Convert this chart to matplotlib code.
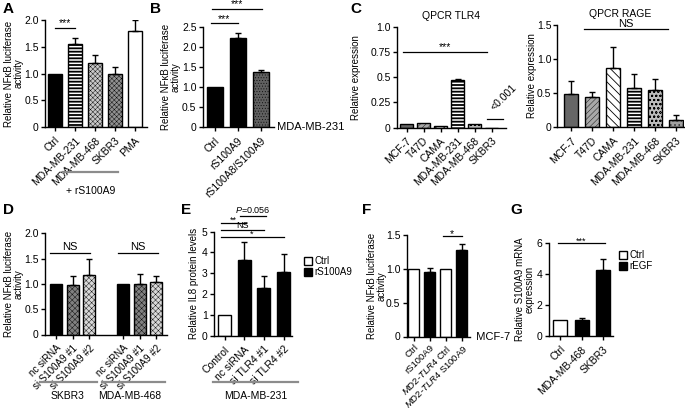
import matplotlib
matplotlib.use("Agg")
import matplotlib.pyplot as plt
from matplotlib.patches import Rectangle
from matplotlib.lines import Line2D

plt.rcParams['font.family'] = ['Liberation Sans', 'DejaVu Sans']
plt.rcParams['mathtext.fontset'] = 'custom'
plt.rcParams['mathtext.it'] = 'Liberation Sans:italic'
plt.rcParams['mathtext.rm'] = 'Liberation Sans'
plt.rcParams['font.size'] = 7.5

# ---------------- data ----------------
A_cats = ['Ctrl', 'MDA-MB-231', 'MDA-MB-468', 'SKBR3', 'PMA']
A_vals = [1.0, 1.55, 1.2, 1.0, 1.8]
A_err = [0, 0.12, 0.15, 0.12, 0.2]

B_cats = ['Ctrl', 'rS100A9', 'rS100A8/S100A9']
B_vals = [1.0, 2.22, 1.38]
B_err = [0, 0.13, 0.05]

C_cats = ['MCF-7', 'T47D', 'CAMA', 'MDA-MB-231', 'MDA-MB-468', 'SKBR3']
TLR4_vals = [0.03, 0.045, 0.01, 0.47, 0.035, 0.0]
TLR4_err = [0, 0, 0, 0.015, 0, 0]
RAGE_vals = [0.49, 0.44, 0.87, 0.58, 0.55, 0.11]
RAGE_err = [0.18, 0.08, 0.30, 0.20, 0.15, 0.06]

D_cats = ['nc siRNA', 'si S100A9 #1', 'si S100A9 #2', 'nc siRNA', 'si S100A9 #1', 'si S100A9 #2']
D_pos = [0, 1, 2, 4, 5, 6]
D_vals = [1.0, 0.97, 1.18, 1.0, 0.99, 1.04]
D_err = [0, 0.19, 0.31, 0, 0.20, 0.12]

E_cats = ['Control', 'nc siRNA', 'si TLR4 #1', 'si TLR4 #2']
E_vals = [1.0, 3.65, 2.3, 3.08]
E_err = [0, 0.85, 0.55, 0.82]

F_cats = ['Ctrl', 'rS100A9', '$\\mathit{MD2}$-$\\mathit{TLR4}$ Ctrl', '$\\mathit{MD2}$-$\\mathit{TLR4}$ S100A9']
F_vals = [1.0, 0.96, 1.0, 1.28]
F_err = [0, 0.05, 0, 0.09]

G_cats = ['Ctrl', 'MDA-MB-468', 'SKBR3']
G_vals = [1.0, 1.05, 4.25]
G_err = [0, 0.12, 0.72]

# ---------------- styles ----------------
BLACK = dict(fc='black')
WHITE = dict(fc='white')
STRIPE = dict(fc='white', hatch='-----', hlw=1.3)
DOTL = dict(fc='#c8c8c8', hatch='xxxxxxx', hlw=0.3)
DOTD = dict(fc='#909090', hatch='xxxxxxx', hlw=0.3)
DARK = dict(fc='#606060', hatch='......', hlw=0.3)
GRAYM = dict(fc='#666666')
GRAYL = dict(fc='#a8a8a8', hatch='//////', hlw=0.3)
DIAG = dict(fc='white', hatch='\\\\\\\\', hlw=0.6)
DOTS = dict(fc='#bdbdbd', hatch='oooo', hlw=0.4)
DOTS2 = dict(fc='#a0a0a0', hatch='....', hlw=0.4)
DMED = dict(fc='#808080', hatch='xxxxxx', hlw=0.3)
DLIGHT = dict(fc='#d8d8d8', hatch='xxxxxx', hlw=0.3)

W, H = 685, 408
fig = plt.figure(figsize=(W / 100, H / 100), dpi=100)


def make_ax(x0, x1, ytop, ybot):
    return fig.add_axes([x0 / W, 1 - ybot / H, (x1 - x0) / W, (ybot - ytop) / H])


def style(ax, x0, x1, c0, sp, ylim, yticks, yticklabels, pos, cats, rot=45, xfs=7.5, xpad=3):
    for s in ['top', 'right']:
        ax.spines[s].set_visible(False)
    for s in ['left', 'bottom']:
        ax.spines[s].set_linewidth(1.0)
    ax.set_xlim((x0 - c0) / sp, (x1 - c0) / sp)
    ax.set_ylim(*ylim)
    ax.set_yticks(yticks)
    ax.set_yticklabels(yticklabels)
    ax.set_xticks(pos)
    ax.set_xticklabels(cats, rotation=rot, ha='right', rotation_mode='anchor', fontsize=xfs)
    ax.tick_params(direction='out', length=3, width=1, pad=1.5)
    ax.tick_params(axis='y', labelsize=7.5)
    ax.tick_params(axis='x', pad=xpad)


def bars(ax, pos, vals, errs, styles, width):
    for p, v, e, st in zip(pos, vals, errs, styles):
        with plt.rc_context({'hatch.linewidth': st.get('hlw', 0.5)}):
            ax.bar(p, v, width, color=st['fc'], edgecolor='black', linewidth=1.0,
                   hatch=st.get('hatch'), zorder=2)
        if e > 0:
            ax.errorbar([p], [v], yerr=[[0], [e]], fmt='none', ecolor='black',
                        elinewidth=1.0, capsize=2.5, capthick=1.0, zorder=3)


def sig(ax, xa, xb, y, txt, dy=0.0, fs=7.5):
    ax.plot([xa, xb], [y, y], color='black', lw=0.9, clip_on=False)
    if txt:
        ax.text((xa + xb) / 2, y + dy, txt, ha='center', va='bottom', fontsize=fs)


def ylab(ax, text, px, x0, x1):
    # px = right edge of the (rotated) label block, in figure pixels
    ax.set_ylabel(text, fontsize=7, linespacing=1.05)
    ax.yaxis.set_label_coords((px - x0) / (x1 - x0), 0.5)


def ftext(x, y, s, **kw):
    fig.text(x / W, 1 - y / H, s, **kw)


def fline(xa, xb, y, color='#8c8c8c', lw=1.6):
    fig.add_artist(Line2D([xa / W, xb / W], [1 - y / H, 1 - y / H], color=color, lw=lw))


def letter(x, y, s):
    ftext(x, y, s, fontsize=11, fontweight='bold', ha='left', va='top')


# ---------------- Panel A ----------------
x0, x1, c0, sp = 45, 147, 54.7, 20
axA = make_ax(x0, x1, 20, 127)
posA = list(range(len(A_cats)))
bars(axA, posA, A_vals, A_err, [BLACK, STRIPE, DOTL, DOTD, WHITE], 14 / sp)
style(axA, x0, x1, c0, sp, (0, 2.0), [0, 0.5, 1.0, 1.5, 2.0], ['0', '0.5', '1.0', '1.5', '2.0'], posA, A_cats)
ylab(axA, 'Relative NFκB luciferase\nactivity', 24, x0, x1)
sig(axA, 0, 1, 1.85, '***', dy=-0.01)
fline(63, 118, 172)
ftext(91, 191, '+ rS100A9', ha='center', va='center', fontsize=7.5)
letter(3, 2, 'A')

# ---------------- Panel B ----------------
x0, x1, c0, sp = 202.7, 274, 214.5, 23
axB = make_ax(x0, x1, 26.7, 127.3)
posB = list(range(len(B_cats)))
bars(axB, posB, B_vals, B_err, [BLACK, BLACK, DARK], 16 / sp)
style(axB, x0, x1, c0, sp, (0, 2.5), [0, 0.5, 1.0, 1.5, 2.0, 2.5], ['0', '0.5', '1.0', '1.5', '2.0', '2.5'], posB, B_cats)
ylab(axB, 'Relative NFκB luciferase\nactivity', 181, x0, x1)
sig(axB, -0.15, 1.0, 2.58, '***', dy=-0.01)
sig(axB, -0.1, 2.05, 2.95, '***', dy=-0.01)
axB.text(1.0, 0, ' MDA-MB-231', transform=axB.transAxes, ha='left', va='center', fontsize=8)
letter(150, 2, 'B')

# ---------------- Panel C: TLR4 ----------------
x0, x1, c0, sp = 397, 506, 406.5, 17
axC1 = make_ax(x0, x1, 27, 127.5)
posC = list(range(len(C_cats)))
bars(axC1, posC, TLR4_vals, TLR4_err, [GRAYM, GRAYL, DIAG, STRIPE, DOTS, DOTS2], 13 / sp)
style(axC1, x0, x1, c0, sp, (0, 1.0), [0, 0.25, 0.5, 0.75, 1.0], ['0', '0.25', '0.5', '0.75', '1.0'], posC, C_cats)
axC1.set_title('QPCR TLR4', fontsize=7.5, pad=6)
ylab(axC1, 'Relative expression', 361, x0, x1)
sig(axC1, -0.2, 4.75, 0.75, '***', dy=0.0)
axC1.plot([4.75, 5.65], [0.085, 0.085], color='black', lw=0.9, clip_on=False)
axC1.text(5.25, 0.15, '<0.001', rotation=45, ha='left', va='bottom', fontsize=7.5,
          rotation_mode='anchor')
letter(350, 2, 'C')

# ---------------- Panel C: RAGE ----------------
x0, x1, c0, sp = 557, 684, 571, 21
axC2 = make_ax(x0, x1, 25, 127)
bars(axC2, posC, RAGE_vals, RAGE_err, [GRAYM, GRAYL, DIAG, STRIPE, DOTS, DOTS2], 14 / sp)
style(axC2, x0, x1, c0, sp, (0, 1.5), [0, 0.5, 1.0, 1.5], ['0', '0.5', '1.0', '1.5'], posC, C_cats)
axC2.tick_params(axis='y', pad=1)
axC2.set_title('QPCR RAGE', fontsize=7.5, pad=6)
ylab(axC2, 'Relative expression', 537, x0, x1)
sig(axC2, 0.6, 4.6, 1.44, 'NS', dy=0.0, fs=8)

# ---------------- Panel D ----------------
x0, x1, c0, sp = 45, 167, 56, 16.7
axD = make_ax(x0, x1, 233.3, 334.5)
bars(axD, D_pos, D_vals, D_err, [BLACK, DMED, DLIGHT, BLACK, DMED, DLIGHT], 12 / sp)
style(axD, x0, x1, c0, sp, (0, 2.0), [0, 0.5, 1.0, 1.5, 2.0], ['0', '0.5', '1.0', '1.5', '2.0'], D_pos, D_cats, xfs=7)
ylab(axD, 'Relative NFκB luciferase\nactivity', 24, x0, x1)
sig(axD, -0.35, 2.05, 1.62, 'NS', dy=0.02, fs=8)
sig(axD, 3.7, 6.1, 1.62, 'NS', dy=0.02, fs=8)
fline(40, 97, 382)
fline(102, 165, 382)
ftext(68, 396, 'SKBR3', ha='center', va='center', fontsize=7.5)
ftext(130, 396, 'MDA-MB-468', ha='center', va='center', fontsize=7.5)
letter(3, 203, 'D')

# ---------------- Panel E ----------------
x0, x1, c0, sp = 214, 292, 224.5, 19.7
axE = make_ax(x0, x1, 231.5, 336)
posE = list(range(len(E_cats)))
bars(axE, posE, E_vals, E_err, [WHITE, BLACK, BLACK, BLACK], 13 / sp)
style(axE, x0, x1, c0, sp, (0, 5), [0, 1, 2, 3, 4, 5], ['0', '1', '2', '3', '4', '5'], posE, E_cats)
ylab(axE, 'Relative IL8 protein levels', 199, x0, x1)
sig(axE, 0.8, 2.1, 5.75, '$\\mathit{P}$=0.056', dy=0.02, fs=6.5)
sig(axE, -0.2, 1.1, 5.42, '**', dy=-0.1, fs=6.5)
sig(axE, -0.2, 2.0, 5.08, 'NS', dy=-0.02, fs=6.5)
sig(axE, -0.2, 3.0, 4.76, '*', dy=-0.1, fs=6.5)
axE.legend([Rectangle((0, 0), 1, 1, fc='white', ec='black', lw=1),
            Rectangle((0, 0), 1, 1, fc='black', ec='black', lw=1)],
           ['Ctrl', 'rS100A9'], loc='upper left',
           bbox_to_anchor=(304 / W, 1 - 256 / H), bbox_transform=fig.transFigure,
           frameon=False, fontsize=7, handlelength=0.8, handleheight=0.9,
           handletextpad=0.3, labelspacing=0.15, borderpad=0, borderaxespad=0)
fline(213, 298, 382)
ftext(256, 396, 'MDA-MB-231', ha='center', va='center', fontsize=7.5)
letter(181, 203, 'E')

# ---------------- Panel F ----------------
x0, x1, c0, sp = 406.7, 470, 413.8, 16
axF = make_ax(x0, x1, 235, 336.5)
posF = list(range(len(F_cats)))
bars(axF, posF, F_vals, F_err, [WHITE, BLACK, WHITE, BLACK], 11 / sp)
style(axF, x0, x1, c0, sp, (0, 1.5), [0, 0.5, 1.0, 1.5], ['0', '0.5', '1.0', '1.5'], posF, F_cats,
      xfs=6.8, xpad=1.5)
ylab(axF, 'Relative NFκB luciferase\nactivity', 387, x0, x1)
sig(axF, 1.8, 3.0, 1.48, '*', dy=-0.04, fs=7.5)
axF.text(1.0, 0, '  MCF-7', transform=axF.transAxes, ha='left', va='center', fontsize=8)
letter(362, 203, 'F')

# ---------------- Panel G ----------------
x0, x1, c0, sp = 548.5, 613, 560, 21.5
axG = make_ax(x0, x1, 242.7, 336)
posG = list(range(len(G_cats)))
bars(axG, posG, G_vals, G_err, [WHITE, BLACK, BLACK], 14 / sp)
style(axG, x0, x1, c0, sp, (0, 6), [0, 2, 4, 6], ['0', '2', '4', '6'], posG, G_cats)
ylab(axG, 'Relative S100A9 mRNA\nexpression', 535, x0, x1)
sig(axG, -0.1, 2.1, 5.95, '***', dy=-0.15, fs=6.5)
axG.legend([Rectangle((0, 0), 1, 1, fc='white', ec='black', lw=1),
            Rectangle((0, 0), 1, 1, fc='black', ec='black', lw=1)],
           ['Ctrl', 'rEGF'], loc='upper left',
           bbox_to_anchor=(619 / W, 1 - 250 / H), bbox_transform=fig.transFigure,
           frameon=False, fontsize=7, handlelength=0.8, handleheight=0.9,
           handletextpad=0.3, labelspacing=0.15, borderpad=0, borderaxespad=0)
letter(510, 203, 'G')

fig.savefig('out.png', dpi=100)
